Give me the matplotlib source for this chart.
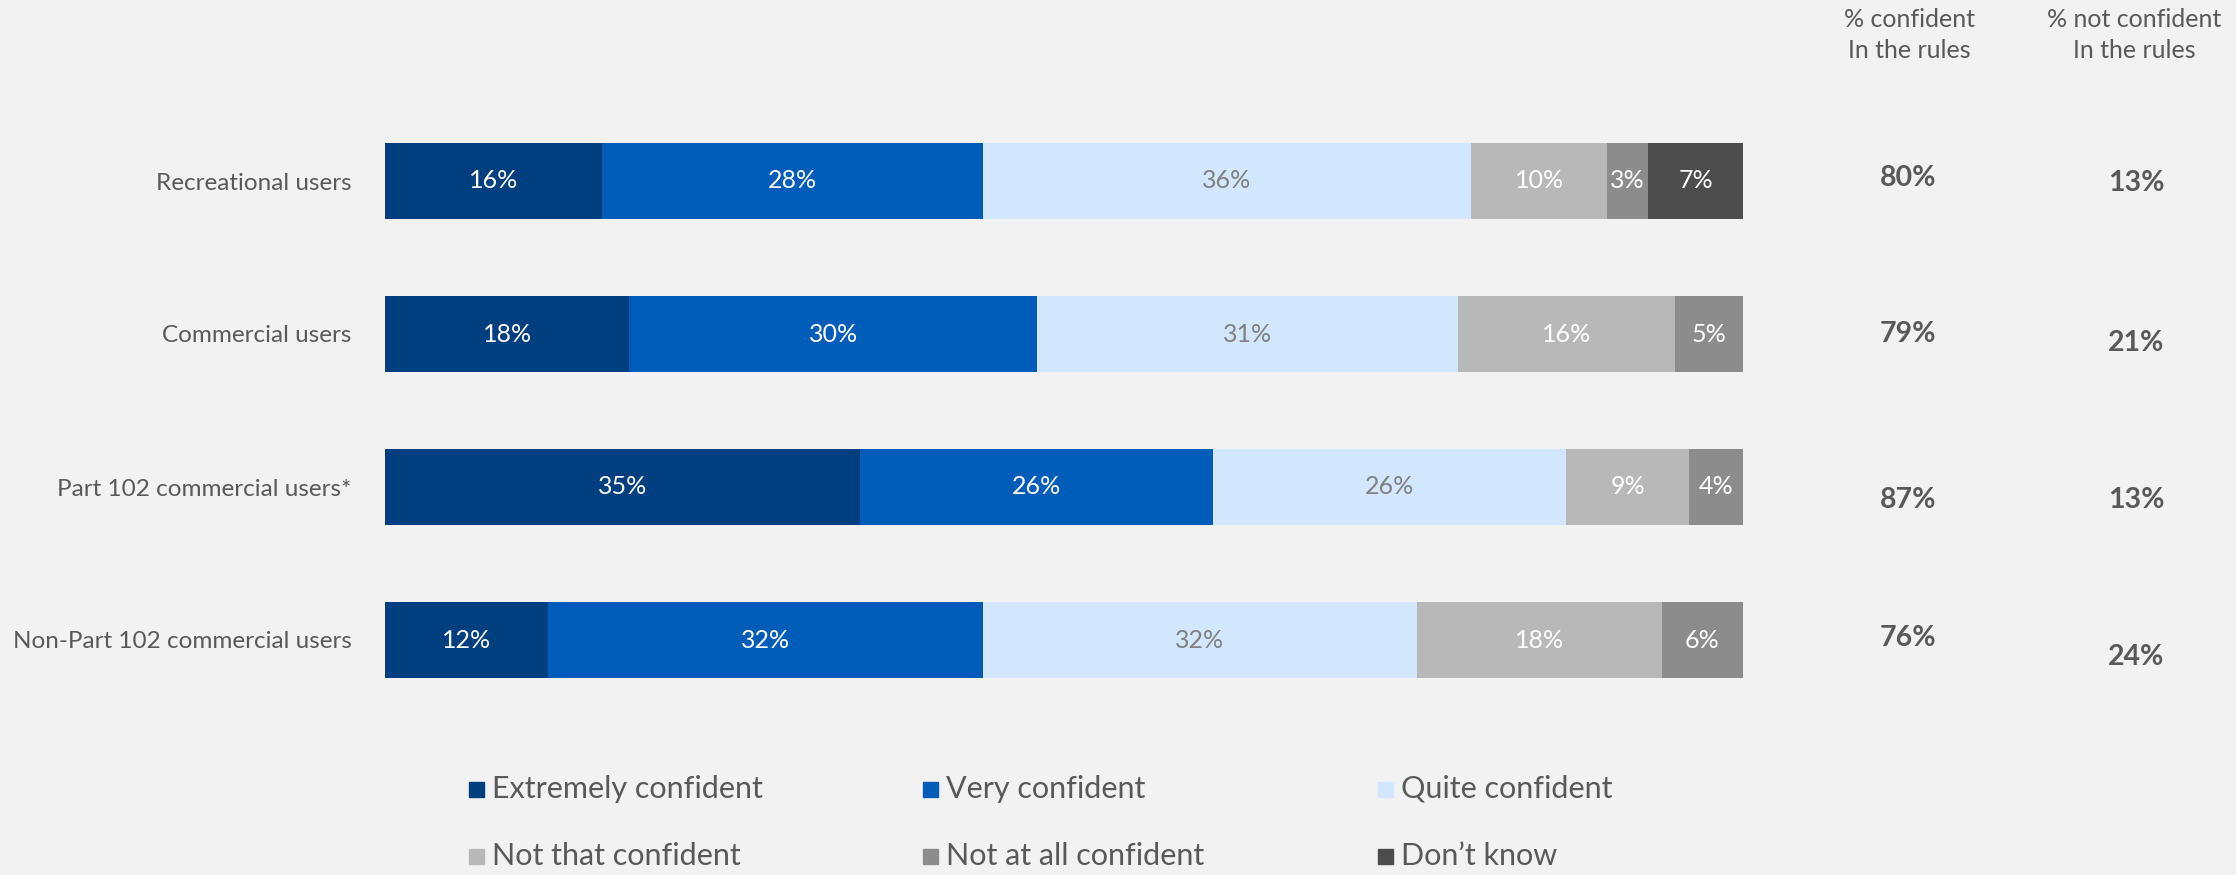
import matplotlib.pyplot as plt
import matplotlib.transforms as mtrans
from matplotlib.patches import Rectangle

plt.rcParams['font.family'] = ['Lato', 'DejaVu Sans']

groups = ['Recreational users', 'Commercial users', 'Part 102 commercial users*',
          'Non-Part 102 commercial users']
levels = ['Extremely confident', 'Very confident', 'Quite confident',
          'Not that confident', 'Not at all confident', 'Don\u2019t know']
extremely = [16, 18, 35, 12]
very = [28, 30, 26, 32]
quite = [36, 31, 26, 32]
not_that = [10, 16, 9, 18]
not_at_all = [3, 5, 4, 6]
dont_know = [7, 0, 0, 0]
pct_confident = [80, 79, 87, 76]
pct_not_confident = [13, 21, 13, 24]

colors = ['#003f7f', '#005cb9', '#d2e7fd', '#b8b8b8', '#8c8c8c', '#4d4d4d']
label_colors = ['white', 'white', '#808080', 'white', 'white', 'white']
grey = '#595959'
bg = '#f2f2f2'

fig = plt.figure(figsize=(22.36, 8.75), dpi=100, facecolor=bg)
ax = fig.add_axes([385 / 2236, 1 - 716.5 / 875, 1358 / 2236, 612 / 875])
ax.set_facecolor(bg)

series = [extremely, very, quite, not_that, not_at_all, dont_know]
rows = range(len(groups))
left = [0] * len(groups)
for vals, col, lc in zip(series, colors, label_colors):
    ax.barh(rows, vals, left=left, height=0.5, color=col, edgecolor='none')
    for i, v in enumerate(vals):
        if v > 0:
            ax.text(left[i] + v / 2, i, f'{v}%', ha='center', va='center',
                    color=lc, fontsize=18)
    left = [a + b for a, b in zip(left, vals)]

ax.set_xlim(0, 100)
ax.set_ylim(3.5, -0.5)
ax.set_yticks(list(rows))
ax.set_yticklabels(groups, fontsize=17.5, color=grey)
ax.tick_params(axis='y', length=0, pad=24)
ax.set_xticks([])
for s in ax.spines.values():
    s.set_visible(False)

# side columns (values sit a little off the bar centre in the original)
conf_dy = [-0.02, 0.0, 0.085, -0.01]
notconf_dy = [0.01, 0.06, 0.085, 0.11]
blend = mtrans.blended_transform_factory(fig.transFigure, ax.transData)
for i in rows:
    ax.text(1908 / 2236, i + conf_dy[i], f'{pct_confident[i]}%', transform=blend,
            ha='center', va='center', fontsize=20.5, fontweight='bold', color=grey)
    ax.text(2136 / 2236, i + notconf_dy[i], f'{pct_not_confident[i]}%', transform=blend,
            ha='center', va='center', fontsize=20.5, fontweight='bold', color=grey)

fig.text(1909 / 2236, 1 - 35 / 875, '% confident\nIn the rules', ha='center', va='center',
         fontsize=18, color=grey, linespacing=1.45)
fig.text(2134 / 2236, 1 - 35 / 875, '% not confident\nIn the rules', ha='center', va='center',
         fontsize=18, color=grey, linespacing=1.45)

# legend
col_x = [469, 923, 1378]
row_y = [789, 856]
sq = 15
for k, (name, col) in enumerate(zip(levels, colors)):
    x = col_x[k % 3]
    y = row_y[k // 3]
    fig.patches.append(Rectangle((x / 2236, 1 - (y + sq / 2) / 875), sq / 2236, sq / 875,
                                 transform=fig.transFigure, color=col))
    fig.text((x + sq + 8) / 2236, 1 - y / 875, name, ha='left', va='center',
             fontsize=22, color=grey)

fig.savefig('out.png', dpi=100, facecolor=bg)
